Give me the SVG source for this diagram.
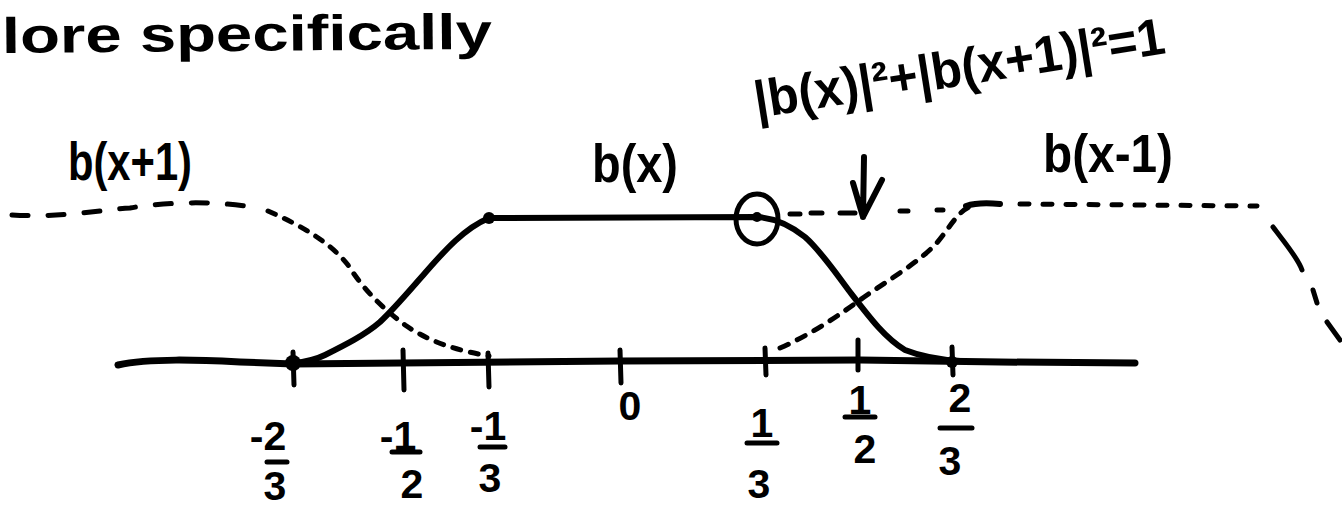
<svg xmlns="http://www.w3.org/2000/svg" width="1342" height="511" viewBox="0 0 1342 511">
<style>
.t{font-family:"Liberation Sans","DejaVu Sans",sans-serif;font-weight:bold;fill:#000}
.lab{font-size:54px}
.num{font-size:41px;text-anchor:middle}
.solid{fill:none;stroke:#000;stroke-width:6;stroke-linecap:round;stroke-linejoin:round}
.axis{fill:none;stroke:#000;stroke-width:7;stroke-linecap:round}
.tick{fill:none;stroke:#000;stroke-width:5;stroke-linecap:round}
.bar{fill:none;stroke:#000;stroke-width:5;stroke-linecap:round}
.dash{fill:none;stroke:#000;stroke-width:5;stroke-linecap:round}
</style>
<rect width="1342" height="511" fill="#fff"/>
<g id="title">
<text class="t" x="2" y="53" font-size="50" textLength="490" lengthAdjust="spacingAndGlyphs" transform="rotate(-0.5 2 53)">lore specifically</text>
</g>
<g id="equation">
<text class="t" x="757" y="118" font-size="52" textLength="415" lengthAdjust="spacingAndGlyphs" transform="rotate(-9 757 118)">|b(x)|²+|b(x+1)|²=1</text>
</g>
<g id="label-bx1">
<text class="t lab" x="68" y="180" textLength="124" lengthAdjust="spacingAndGlyphs">b(x+1)</text>
</g>
<g id="label-bx">
<text class="t lab" x="592" y="182" textLength="86" lengthAdjust="spacingAndGlyphs">b(x)</text>
</g>
<g id="label-bxm1">
<text class="t lab" x="1043" y="172" textLength="130" lengthAdjust="spacingAndGlyphs">b(x-1)</text>
</g>
<g id="axis">
<path class="axis" d="M118,365 C150,358 200,360 240,362 L293,364 L620,361 L860,360 L1000,362 L1135,363"/>
</g>
<g id="ticks">
<path class="tick" d="M293,352 L294,385 M403,350 L404,390 M488,353 L489,387 M620,350 L621,383 M765,348 L766,375 M858,340 L858,370 M952,347 L953,375"/>
<circle cx="293" cy="363" r="8" fill="#000"/>
<circle cx="952" cy="362" r="6" fill="#000"/>
</g>
<g id="tick-labels">
<text class="t num" x="268" y="450">-2</text>
<path class="bar" d="M267,462 L287,462"/>
<text class="t num" x="275" y="500">3</text>
<text class="t num" x="398" y="450">-1</text>
<path class="bar" d="M392,452 L420,452"/>
<text class="t num" x="412" y="498">2</text>
<text class="t num" x="488" y="440">-1</text>
<path class="bar" d="M480,447 L505,447"/>
<text class="t num" x="490" y="492">3</text>
<text class="t num" x="630" y="420">0</text>
<text class="t num" x="762" y="437">1</text>
<path class="bar" d="M747,443 L777,443"/>
<text class="t num" x="759" y="498">3</text>
<text class="t num" x="860" y="414">1</text>
<path class="bar" d="M845,417 L875,417"/>
<text class="t num" x="865" y="463">2</text>
<text class="t num" x="960" y="412">2</text>
<path class="bar" d="M940,428 L972,428"/>
<text class="t num" x="950" y="475">3</text>
</g>
<g id="connectors">
<path id="b-x" class="solid" d="M293,363 C305,362 315,360 325,355 C345,345 365,335 380,322 C395,308 410,290 425,273 C445,250 465,228 489,218 L757,217 C775,218 790,225 805,237 C820,250 835,272 850,292 C870,318 885,338 905,350 C925,358 945,360 960,361"/>
<circle cx="489" cy="218" r="6" fill="#000"/>
<ellipse cx="757" cy="219" rx="21" ry="25" fill="none" stroke="#000" stroke-width="5"/>
<circle cx="757" cy="217" r="5" fill="#000"/>
<path id="b-xp1-a" class="dash" stroke-width="6" stroke-dasharray="16 20" d="M12,215 C60,218 100,210 130,208 C165,202 220,200 262,209"/>
<path id="b-xp1-b" class="dash" stroke-width="4" stroke-dasharray="8 10" d="M268,211 C300,225 330,242 348,265 C365,292 385,310 405,325 C430,342 455,350 489,356"/>
<path id="b-xm1-top" class="dash" stroke-width="4" d="M790,214 h10 M811,213 h11 M840,213 h15 M900,211 h8 M937,210 h6"/>
<path id="b-xm1-rise" class="dash" stroke-dasharray="9 10" d="M780,348 C810,335 835,318 860,300 C885,282 915,265 935,245 C950,228 958,210 972,206"/>
<path class="solid" d="M966,206 C978,202 990,203 1000,204"/>
<path id="b-xm1-flat" class="dash" stroke-dasharray="9 14" d="M1020,204 L1257,206"/>
<path id="b-xm1-down" class="dash" d="M1273,227 C1285,243 1298,258 1302,270 M1313,290 L1317,303 M1327,322 L1340,340"/>
<path id="arrow" class="solid" stroke-width="5" d="M864,157 L863,217 M853,183 L863,217 L882,180"/>
</g>
</svg>
